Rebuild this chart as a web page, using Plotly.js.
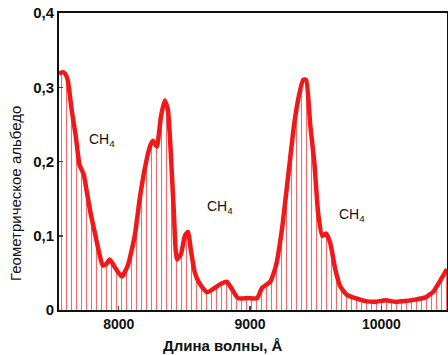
<!DOCTYPE html>
<html>
<head>
<meta charset="utf-8">
<script src="https://cdn.plot.ly/plotly-3.0.1.min.js"></script>
<style>html,body{margin:0;padding:0;background:#fff;}#chart{width:448px;height:355px;}</style>
</head>
<body>
<div id="chart"></div>
<script>
// wavelength (Å) and geometric albedo
const wavelength = [7545,7565,7588,7611,7641,7672,7702,7733,7756,7786,7817,7847,7878,7905,7931,7969,8023,8069,8122,8160,8198,8237,8260,8290,8321,8351,8374,8397,8420,8443,8473,8504,8527,8550,8580,8618,8672,8733,8786,8824,8863,8908,8985,9053,9092,9153,9198,9244,9290,9336,9374,9405,9427,9458,9489,9519,9550,9580,9611,9649,9687,9740,9802,9878,9954,10031,10107,10183,10260,10336,10397,10450,10500];
const albedo = [0.318,0.32,0.319,0.31,0.27,0.235,0.195,0.183,0.16,0.13,0.105,0.08,0.06,0.062,0.068,0.058,0.045,0.06,0.1,0.15,0.19,0.22,0.228,0.22,0.26,0.282,0.27,0.21,0.13,0.068,0.075,0.1,0.105,0.08,0.05,0.035,0.024,0.03,0.036,0.038,0.028,0.016,0.016,0.016,0.03,0.038,0.06,0.11,0.18,0.25,0.29,0.31,0.31,0.25,0.2,0.13,0.1,0.103,0.09,0.055,0.032,0.02,0.016,0.012,0.011,0.013,0.011,0.012,0.014,0.017,0.025,0.04,0.055];
const yTickVals = [0,0.1,0.2,0.3,0.4];
const yTickText = ['0','0,1','0,2','0,3','0,4'];
const xTickVals = [8000,9000,10000];
const xTickText = ['8000','9000','10000'];
const bandLabels = ['CH<sub>4</sub>','CH<sub>4</sub>','CH<sub>4</sub>'];
const bandX = [7870,8771,9779];
const bandY = [0.229,0.139,0.128];
const xTitle = 'Длина волны, Å';
const yTitle = 'Геометрическое альбедо';

const fam = 'Liberation Sans, Arial, sans-serif';
const boldFont = {family:fam, color:'#111', size:14, weight:'bold'};

const trace = {
  x: wavelength, y: albedo, type:'scatter', mode:'lines',
  line:{color:'#f01818', width:4.5, shape:'spline', smoothing:0.5},
  fill:'tozeroy',
  fillcolor:'rgba(0,0,0,0)',
  fillpattern:{shape:'|', size:5, solidity:0.22, fgcolor:'#f26a6a', bgcolor:'rgba(255,255,255,0)'},
  hoverinfo:'skip'
};

const annotations = bandLabels.map((t,i)=>({x:bandX[i], y:bandY[i], xref:'x', yref:'y', text:t, showarrow:false,
    font:{family:fam, size:14, color:'#111', weight:'normal'}}));
annotations.push({xref:'paper', yref:'paper', x:0.4227, y:-0.121, text:xTitle, showarrow:false,
  xanchor:'center', yanchor:'middle', font:{family:fam, size:15, color:'#111', weight:'bold'}});
annotations.push({xref:'paper', yref:'paper', x:-0.111, y:0.394, text:yTitle, showarrow:false, textangle:-90,
  xanchor:'center', yanchor:'middle', font:{family:fam, size:15, color:'#111', weight:'normal'}});

const layout = {
  width:448, height:355,
  margin:{l:59, r:1, t:13, b:45},
  paper_bgcolor:'#fff', plot_bgcolor:'#fff',
  showlegend:false,
  font: {family:fam, color:'#111', size:14},
  xaxis:{range:[7545,10500], tickvals:xTickVals, ticktext:xTickText, ticks:'inside', ticklen:4, tickwidth:1.5,
    showline:true, linecolor:'#111', linewidth:2, mirror:true, showgrid:false, zeroline:false,
    tickfont:{...boldFont, size:14}},
  yaxis:{range:[0,0.4], tickvals:yTickVals, ticktext:yTickText, ticks:'inside', ticklen:4, tickwidth:1.5,
    showline:true, linecolor:'#111', linewidth:2, mirror:true, showgrid:false, zeroline:false,
    tickfont:{...boldFont, size:15}},
  annotations: annotations
};

Plotly.newPlot('chart',[trace],layout,{displayModeBar:false, staticPlot:true});
</script>
</body>
</html>
